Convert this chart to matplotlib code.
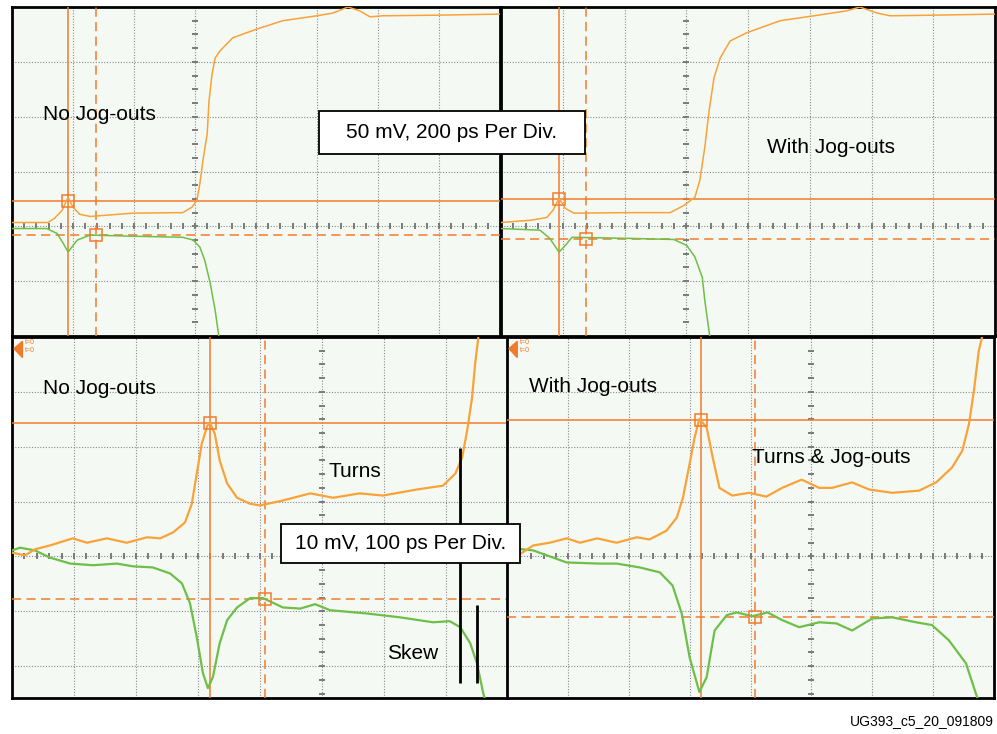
import numpy as np
import matplotlib
matplotlib.use("Agg")
import matplotlib.pyplot as plt
from matplotlib.patches import Rectangle, Polygon

plt.rcParams['font.family'] = ['Liberation Sans', 'DejaVu Sans']

# scope traces, in screen divisions (x from left edge, y from centre line)
tl_orange_x = [0, 0.59, 0.70, 0.82, 0.92, 1.0, 1.11, 1.28, 1.98, 2.80, 2.95, 3.03, 3.08, 3.13, 3.20, 3.23,
               3.28, 3.33, 3.41, 3.62, 4.02, 4.44, 5.0, 5.26, 5.51, 5.70, 5.87, 6.08, 6.90, 8.0]
tl_orange_y = [0.07, 0.07, 0.15, 0.29, 0.53, 0.35, 0.22, 0.18, 0.24, 0.25, 0.35, 0.47, 0.78, 1.20, 1.69, 2.29,
               2.78, 3.07, 3.20, 3.44, 3.60, 3.75, 3.84, 3.89, 4.0, 3.93, 3.82, 3.84, 3.85, 3.87]
tl_green_x = [0, 0.57, 0.74, 0.84, 0.92, 1.0, 1.07, 1.28, 1.98, 2.80, 2.97, 3.08, 3.16, 3.25, 3.33, 3.39]
tl_green_y = [-0.04, -0.04, -0.13, -0.31, -0.47, -0.35, -0.25, -0.16, -0.18, -0.20, -0.25, -0.38, -0.62,
              -1.04, -1.53, -2.0]

tr_orange_x = [0, 0.47, 0.74, 0.84, 0.94, 1.04, 1.18, 2.09, 2.74, 2.96, 3.14, 3.22, 3.30, 3.37, 3.45, 3.55,
               3.71, 3.98, 4.52, 5.07, 5.60, 5.81, 6.09, 6.30, 6.95, 8.0]
tr_orange_y = [0.07, 0.11, 0.16, 0.29, 0.51, 0.33, 0.24, 0.25, 0.25, 0.38, 0.53, 0.84, 1.44, 2.11, 2.71, 3.07,
               3.38, 3.53, 3.75, 3.84, 3.93, 4.0, 3.89, 3.84, 3.85, 3.87]
tr_green_x = [0, 0.63, 0.79, 0.94, 1.04, 1.15, 2.09, 2.80, 3.01, 3.14, 3.26, 3.30, 3.38]
tr_green_y = [-0.04, -0.07, -0.22, -0.47, -0.35, -0.20, -0.22, -0.24, -0.35, -0.56, -0.93, -1.35, -2.0]

bl_orange_x = [0, 0.21, 0.37, 0.61, 0.98, 1.21, 1.53, 1.85, 2.18, 2.39, 2.60, 2.79, 2.90, 2.98, 3.06, 3.15,
               3.19, 3.27, 3.35, 3.47, 3.63, 3.84, 4.0, 4.37, 4.81, 5.18, 5.61, 5.98, 6.53, 6.95, 7.15,
               7.26, 7.34, 7.42, 7.47, 7.52]
bl_orange_y = [0.07, 0.02, 0.13, 0.20, 0.33, 0.25, 0.33, 0.25, 0.35, 0.33, 0.44, 0.62, 0.96, 1.51, 2.05, 2.38,
               2.44, 2.24, 1.75, 1.33, 1.07, 0.96, 0.93, 1.02, 1.15, 1.07, 1.15, 1.11, 1.22, 1.29, 1.51,
               1.80, 2.29, 2.89, 3.51, 3.98]
bl_green_x = [0, 0.13, 0.37, 0.61, 0.94, 1.31, 1.69, 1.95, 2.27, 2.55, 2.74, 2.87, 2.98, 3.08, 3.16, 3.24,
              3.35, 3.47, 3.63, 3.84, 4.05, 4.37, 4.65, 4.89, 5.13, 5.73, 6.26, 6.79, 7.06, 7.23, 7.39,
              7.50, 7.60, 7.63]
bl_green_y = [0.11, 0.16, 0.11, -0.02, -0.13, -0.16, -0.13, -0.18, -0.20, -0.31, -0.49, -0.85, -1.47, -2.13,
              -2.40, -2.20, -1.58, -1.16, -0.93, -0.76, -0.76, -0.93, -0.95, -0.87, -0.98, -1.04, -1.11,
              -1.20, -1.18, -1.29, -1.58, -1.95, -2.49, -2.62]

br_orange_x = [0, 0.21, 0.43, 0.70, 0.98, 1.20, 1.48, 1.80, 2.13, 2.34, 2.62, 2.79, 2.89, 3.0, 3.08, 3.16,
               3.28, 3.38, 3.49, 3.70, 3.98, 4.26, 4.52, 4.84, 5.13, 5.34, 5.67, 5.95, 6.33, 6.77, 7.05,
               7.31, 7.48, 7.59, 7.67, 7.75, 7.80]
br_orange_y = [0.0, 0.04, 0.20, 0.25, 0.33, 0.25, 0.33, 0.25, 0.35, 0.31, 0.47, 0.71, 1.07, 1.69, 2.16, 2.51,
               2.35, 1.80, 1.25, 1.11, 1.16, 1.09, 1.25, 1.40, 1.25, 1.25, 1.35, 1.22, 1.16, 1.20, 1.35,
               1.62, 1.93, 2.42, 3.02, 3.75, 3.98]
br_green_x = [0, 0.43, 0.98, 1.52, 1.80, 2.18, 2.51, 2.72, 2.87, 3.0, 3.16, 3.28, 3.41, 3.61, 3.77, 4.03,
              4.28, 4.52, 4.80, 5.13, 5.41, 5.67, 6.0, 6.33, 6.72, 6.98, 7.26, 7.54, 7.70, 7.74]
br_green_y = [0.16, 0.11, -0.11, -0.13, -0.13, -0.20, -0.29, -0.53, -1.04, -1.84, -2.47, -2.20, -1.35, -1.07,
              -1.02, -1.09, -1.02, -1.16, -1.29, -1.20, -1.22, -1.35, -1.13, -1.11, -1.20, -1.25, -1.53,
              -1.95, -2.49, -2.62]

# cursor positions: (solid x, solid y, dashed x, dashed y)
tl_cursors = (0.92, 0.47, 1.38, -0.15)
tr_cursors = (0.94, 0.49, 1.38, -0.24)
bl_cursors = (3.19, 2.44, 4.08, -0.78)
br_cursors = (3.18, 2.49, 4.08, -1.11)

# skew bars in the lower-left screen: x, y_top, y_bottom
skew_x = [7.23, 7.50]
skew_top = [1.98, -0.89]
skew_bottom = [-2.31, -2.31]

ORANGE = '#f9a237'
CURSOR = '#f07b2c'
GREEN = '#6dbf48'
SCREEN = '#f5f9f4'
GRIDC = '#8a8a8a'
TICKC = '#7a7a7a'

W, H = 997, 734
fig = plt.figure(figsize=(W / 100, H / 100), dpi=100)
fig.patch.set_facecolor('white')


def add_screen(x0, y0, x1, y1, ylim, centre_x, lw_trace):
    ax = fig.add_axes([x0 / W, 1 - y1 / H, (x1 - x0) / W, (y1 - y0) / H])
    ax.set_facecolor(SCREEN)
    ax.set_xlim(0, 8)
    ax.set_ylim(*ylim)
    ax.set_xticks([])
    ax.set_yticks([])
    for s in ax.spines.values():
        s.set_linewidth(2.0)
        s.set_color('black')
    # dotted graticule
    for gx in range(1, 8):
        ax.axvline(gx, color=GRIDC, lw=0.8, ls=(0, (1, 1.5)), zorder=1)
    for gy in range(int(np.ceil(ylim[0])), int(ylim[1])):
        if gy > ylim[0]:
            ax.axhline(gy, color=GRIDC, lw=0.8, ls=(0, (1, 1.5)), zorder=1)
    # minor ticks on the centre axes
    mx = np.arange(0.2, 8, 0.2)
    ax.plot(mx, np.zeros_like(mx), ls='none', marker='|', ms=5, mew=1.4, color=TICKC, zorder=1)
    my = np.arange(np.ceil(ylim[0] * 4) / 4, ylim[1], 0.25)
    ax.plot(np.full_like(my, centre_x), my, ls='none', marker='_', ms=5, mew=1.4, color=TICKC, zorder=1)
    ax.lw_trace = lw_trace
    return ax


def draw_traces(ax, ox, oy, gx, gy, cur):
    sx, sy, dx, dy = cur
    ax.axvline(sx, color=CURSOR, lw=1.1, zorder=3)
    ax.axhline(sy, color=CURSOR, lw=1.1, zorder=3)
    ax.axvline(dx, color=CURSOR, lw=1.1, dashes=(6, 3.5), zorder=3)
    ax.axhline(dy, color=CURSOR, lw=1.1, dashes=(6, 3.5), zorder=3)
    ax.plot(gx, gy, color=GREEN, lw=ax.lw_trace, zorder=4, solid_joinstyle='round')
    ax.plot(ox, oy, color=ORANGE, lw=ax.lw_trace, zorder=4, solid_joinstyle='round')
    ax.plot([sx, dx], [sy, dy], ls='none', marker='s', ms=8.5, mfc='none', mec=CURSOR, mew=1.1, zorder=5)


def trigger_mark(ax):
    tr = ax.transAxes
    ax.add_patch(Polygon([(0.004, 0.968), (0.021, 0.988), (0.021, 0.943)], closed=True,
                         transform=tr, color=CURSOR, zorder=6, clip_on=False))
    ax.text(0.026, 0.985, 't=0', transform=tr, fontsize=5, color=CURSOR, va='center', zorder=6)
    ax.text(0.026, 0.962, 't=0', transform=tr, fontsize=5, color=CURSOR, va='center', zorder=6)


ax_tl = add_screen(12, 7, 500, 336, (-2, 4), 3, 1.1)
ax_tr = add_screen(501, 7, 995, 336, (-2, 4), 3, 1.1)
ax_bl = add_screen(12, 337, 508, 698, (-2.58, 4), 5, 1.6)
ax_br = add_screen(507, 337, 994, 698, (-2.58, 4), 5, 1.6)

draw_traces(ax_tl, tl_orange_x, tl_orange_y, tl_green_x, tl_green_y, tl_cursors)
draw_traces(ax_tr, tr_orange_x, tr_orange_y, tr_green_x, tr_green_y, tr_cursors)
draw_traces(ax_bl, bl_orange_x, bl_orange_y, bl_green_x, bl_green_y, bl_cursors)
draw_traces(ax_br, br_orange_x, br_orange_y, br_green_x, br_green_y, br_cursors)
trigger_mark(ax_bl)
trigger_mark(ax_br)

ax_bl.vlines(skew_x, skew_bottom, skew_top, color='black', lw=2.0, zorder=6)

FS = 15
ax_tl.text(0.51, 2.04, 'No Jog-outs', fontsize=FS, va='center', zorder=7)
ax_tr.text(4.31, 1.44, 'With Jog-outs', fontsize=FS, va='center', zorder=7)
ax_bl.text(0.50, 3.07, 'No Jog-outs', fontsize=FS, va='center', zorder=7)
ax_bl.text(5.10, 1.55, 'Turns', fontsize=FS, va='center', zorder=7)
ax_bl.text(6.05, -1.76, 'Skew', fontsize=FS, va='center', zorder=7)
ax_br.text(0.36, 3.09, 'With Jog-outs', fontsize=FS, va='center', zorder=7)
ax_br.text(4.02, 1.80, 'Turns & Jog-outs', fontsize=FS, va='center', zorder=7)


def label_box(x0, y0, x1, y1, text):
    fig.patches.append(Rectangle((x0 / W, 1 - y1 / H), (x1 - x0) / W, (y1 - y0) / H,
                                 transform=fig.transFigure, facecolor='white',
                                 edgecolor='black', lw=1.3, zorder=20))
    fig.text((x0 + x1) / 2 / W, 1 - (y0 + y1) / 2 / H, text, fontsize=FS,
             ha='center', va='center', zorder=21)


label_box(319, 111, 585, 154, '50 mV, 200 ps Per Div.')
label_box(281, 524, 520, 563, '10 mV, 100 ps Per Div.')

fig.text(994 / W, 1 - 721 / H, 'UG393_c5_20_091809', fontsize=10, ha='right', va='center')

fig.savefig('out.png', dpi=100, facecolor='white')
